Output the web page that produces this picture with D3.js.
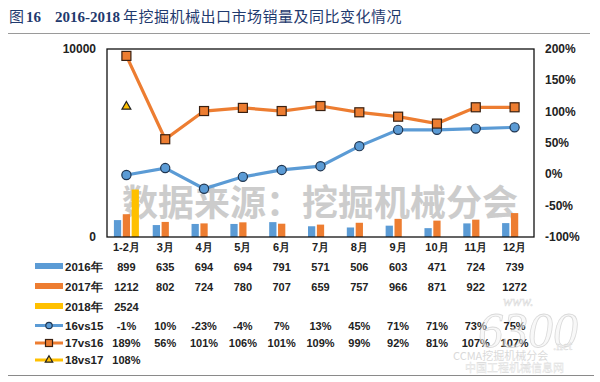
<!DOCTYPE html>
<html><head><meta charset="utf-8">
<script src="https://cdn.jsdelivr.net/npm/d3@7"></script>
<style>body{margin:0;background:#fff}svg{display:block}</style>
</head><body>
<svg id="c" width="600" height="382"></svg>
<script>
const categories = ["1-2月","3月","4月","5月","6月","7月","8月","9月","10月","11月","12月"];
const sales2016 = [899,635,694,694,791,571,506,603,471,724,739];
const sales2017 = [1212,802,724,780,707,659,757,966,871,922,1272];
const sales2018 = [2524];
const yoy16vs15 = [-1,10,-23,-4,7,13,45,71,71,73,75];
const yoy17vs16 = [189,56,101,106,101,109,99,92,81,107,107];
const yoy18vs17 = [108];
const leftTicks = [0,10000];
const rightTicks = [-100,-50,0,50,100,150,200];

const C = {blue:"#5b9bd5", orange:"#ed7d31", yellow:"#ffc000"};
const svg = d3.select("#c");
const L=107, R=534, T=49, B=237;

// title
const title = svg.append("text").attr("y",22).attr("fill","#1f3a6e").style("font-size","15px");
title.append("tspan").attr("x",9).style("font-family","'Noto Sans CJK SC'").text("图");
title.append("tspan").attr("x",26).style("font-family","'Liberation Serif'").style("font-weight","bold").text("16");
title.append("tspan").attr("x",55).style("font-family","'Liberation Serif'").style("font-weight","bold").text("2016-2018");
title.append("tspan").attr("x",123).style("font-family","'Noto Sans CJK SC'").attr("letter-spacing","0.5").text("年挖掘机械出口市场销量及同比变化情况");
svg.append("line").attr("x1",8).attr("x2",590).attr("y1",33.5).attr("y2",33.5).attr("stroke","#9a9a9a").attr("stroke-width",1.2);
svg.append("line").attr("x1",8).attr("x2",594).attr("y1",375.5).attr("y2",375.5).attr("stroke","#8a8a8a").attr("stroke-width",1.2);

const x = d3.scaleBand().domain(categories).range([L,R]);
const sub = d3.scaleBand().domain(["a","b","c"]).range([-12.5,12.5]).paddingInner(0.18);
const yL = d3.scaleLinear().domain([0,10000]).range([B,T]);
const yR = d3.scaleLinear().domain([-100,200]).range([B,T]);

// watermark
svg.append("text").attr("x",122).attr("y",216).attr("fill","#c4c4c4").attr("opacity",0.85)
  .style("font-family","'Noto Sans CJK SC'").style("font-weight","bold").style("font-size","36px")
  .text("数据来源：挖掘机械分会");

// bars
const cx = c => x(c)+x.bandwidth()/2;
const bars = [[sales2016,"a",C.blue],[sales2017,"b",C.orange],[sales2018,"c",C.yellow]];
bars.forEach(([vals,k,col])=>{
  svg.append("g").selectAll("rect").data(vals).join("rect")
    .attr("x",(d,i)=>cx(categories[i])+sub(k)).attr("width",sub.bandwidth())
    .attr("y",d=>yL(d)).attr("height",d=>B-yL(d)).attr("fill",col);
});

// frame
svg.append("rect").attr("x",L).attr("y",T).attr("width",R-L).attr("height",B-T)
  .attr("fill","none").attr("stroke","#111").attr("stroke-width",1.3);

// lines
const line = d3.line().x((d,i)=>cx(categories[i])).y(d=>yR(d));
svg.append("path").datum(yoy16vs15).attr("d",line).attr("fill","none").attr("stroke",C.blue).attr("stroke-width",3.2);
svg.append("path").datum(yoy17vs16).attr("d",line).attr("fill","none").attr("stroke",C.orange).attr("stroke-width",3.2);
svg.append("g").selectAll("circle").data(yoy16vs15).join("circle")
  .attr("cx",(d,i)=>cx(categories[i])).attr("cy",d=>yR(d)).attr("r",4.6)
  .attr("fill",C.blue).attr("stroke","#1f3550").attr("stroke-width",1.2);
svg.append("g").selectAll("rect").data(yoy17vs16).join("rect")
  .attr("x",(d,i)=>cx(categories[i])-4.5).attr("y",d=>yR(d)-4.5).attr("width",9).attr("height",9)
  .attr("fill",C.orange).attr("stroke","#3a2010").attr("stroke-width",1.2);
const tri = d3.symbol().type(d3.symbolTriangle).size(34);
svg.append("g").selectAll("path").data(yoy18vs17).join("path")
  .attr("transform",(d,i)=>`translate(${cx(categories[i])},${yR(d)})`).attr("d",tri)
  .attr("fill",C.yellow).attr("stroke","#222").attr("stroke-width",1.2);

// axes labels
const axFont = s=>s.style("font-family","'Liberation Sans',Arial").style("font-weight","bold").style("fill","#222");
svg.append("g").selectAll("text").data(leftTicks).join("text")
  .attr("x",96).attr("y",d=>yL(d)+4).attr("text-anchor","end").style("font-size","12px").call(axFont).text(d=>d);
svg.append("g").selectAll("text").data(rightTicks).join("text")
  .attr("x",545).attr("y",d=>yR(d)+4).style("font-size","12px").call(axFont).text(d=>d+"%");
svg.append("g").selectAll("text").data(categories).join("text")
  .attr("x",d=>cx(d)).attr("y",251).attr("text-anchor","middle").style("font-size","11px").call(axFont).text(d=>d);

// data table
const rows = [
  {name:"2016年", vals:sales2016, fmt:d=>d, type:"bar", col:C.blue, y:266.5},
  {name:"2017年", vals:sales2017, fmt:d=>d, type:"bar", col:C.orange, y:286.5},
  {name:"2018年", vals:sales2018, fmt:d=>d, type:"bar", col:C.yellow, y:306.5},
  {name:"16vs15", vals:yoy16vs15, fmt:d=>d+"%", type:"circle", col:C.blue, y:325.5},
  {name:"17vs16", vals:yoy17vs16, fmt:d=>d+"%", type:"square", col:C.orange, y:343},
  {name:"18vs17", vals:yoy18vs17, fmt:d=>d+"%", type:"tri", col:C.yellow, y:360}
];
rows.forEach(r=>{
  const g = svg.append("g");
  if(r.type==="bar"){
    g.append("rect").attr("x",35).attr("y",r.y-3.5).attr("width",28).attr("height",6).attr("fill",r.col);
  } else {
    g.append("line").attr("x1",35).attr("x2",63).attr("y1",r.y).attr("y2",r.y).attr("stroke",r.col).attr("stroke-width",3);
    if(r.type==="circle") g.append("circle").attr("cx",49).attr("cy",r.y).attr("r",3.2).attr("fill",r.col).attr("stroke","#1f3550").attr("stroke-width",1.2);
    if(r.type==="square") g.append("rect").attr("x",45.5).attr("y",r.y-3.5).attr("width",7).attr("height",7).attr("fill",r.col).attr("stroke","#3a2010").attr("stroke-width",1.2);
    if(r.type==="tri") g.append("path").attr("transform",`translate(49,${r.y})`).attr("d",d3.symbol().type(d3.symbolTriangle).size(24)).attr("fill",r.col).attr("stroke","#222").attr("stroke-width",1.2);
  }
  g.append("text").attr("x",65).attr("y",r.y+4).style("font-size","11.5px").call(axFont).text(r.name);
  g.selectAll("text.v").data(r.vals).join("text").attr("class","v")
    .attr("x",(d,i)=>cx(categories[i])).attr("y",r.y+4).attr("text-anchor","middle")
    .style("font-size","11px").call(axFont).text(r.fmt);
});

// bottom-right watermark
const wm = svg.append("g").attr("opacity",0.55);
wm.append("text").attr("x",503).attr("y",306).style("font-family","'Liberation Serif'").style("font-style","italic").style("font-size","14px").attr("fill","#ddd").attr("stroke","#bbb").attr("stroke-width",0.4).text("www.");
wm.append("text").attr("x",478).attr("y",347).style("font-family","'Liberation Serif'").style("font-style","italic").style("font-size","50px").attr("fill","#f4f4f4").attr("stroke","#bbb").attr("stroke-width",0.8).text("6300");
wm.append("text").attr("x",553).attr("y",350).style("font-family","'Liberation Serif'").style("font-size","13px").attr("fill","#eee").attr("stroke","#bbb").attr("stroke-width",0.4).text(".net");
wm.append("text").attr("x",453).attr("y",360).style("font-family","'Noto Sans CJK SC'").style("font-size","11px").attr("fill","#bbb").text("CCMA挖掘机械分会");
wm.append("text").attr("x",465).attr("y",372).style("font-family","'Noto Sans CJK SC'").style("font-size","11px").attr("fill","#eee").attr("stroke","#bbb").attr("stroke-width",0.3).text("中国工程机械信息网");
</script>
</body></html>
